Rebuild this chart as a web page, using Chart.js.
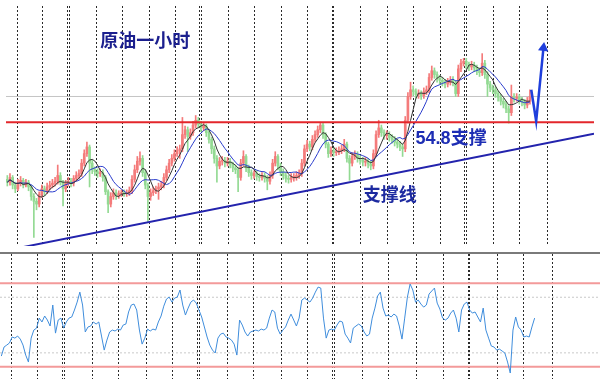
<!DOCTYPE html>
<html><head><meta charset="utf-8">
<script src="https://cdn.jsdelivr.net/npm/chart.js@4.4.1/dist/chart.umd.min.js"></script>
<style>
html,body{margin:0;padding:0;background:#fff;}
#wrap{position:relative;width:600px;height:379px;overflow:hidden;background:#fff;}
#main{position:absolute;left:0;top:0;}
#sep{position:absolute;left:0;top:252px;width:600px;height:2px;background:#7a7a7a;}
#rsi{position:absolute;left:0;top:254px;}
</style></head><body>
<div id="wrap">
<canvas id="main" width="600" height="252"></canvas>
<div id="sep"></div>
<canvas id="rsi" width="600" height="125"></canvas>
</div>
<script>
// ---- data (hourly bars) ----
const opens = [
54.20,54.17,54.22,54.14,54.10,54.16,54.19,54.14,54.17,54.12,
54.02,53.97,53.94,54.04,54.10,54.07,54.12,54.14,54.16,54.18,
54.24,54.17,54.10,54.16,54.18,54.16,54.21,54.24,54.26,54.37,
54.47,54.54,54.37,54.30,54.28,54.26,54.27,54.22,54.07,53.94,
54.02,54.06,54.03,54.05,54.06,54.05,54.06,54.08,54.20,54.30,
54.39,54.42,54.27,54.14,54.02,54.06,54.08,54.10,54.12,54.14,
54.22,54.30,54.37,54.42,54.47,54.50,54.52,54.67,54.72,54.65,
54.69,54.77,54.82,54.78,54.74,54.76,54.69,54.62,54.52,54.42,
54.34,54.39,54.40,54.37,54.39,54.36,54.32,54.30,54.22,54.37,
54.44,54.32,54.27,54.24,54.26,54.23,54.22,54.24,54.21,54.18,
54.24,54.37,54.44,54.34,54.28,54.24,54.21,54.20,54.22,54.22,
54.24,54.26,54.37,54.52,54.57,54.54,54.62,54.67,54.72,54.77,
54.67,54.57,54.47,54.50,54.48,54.49,54.50,54.52,54.57,54.42,
54.37,54.44,54.46,54.42,54.40,54.38,54.39,54.36,54.34,54.47,
54.67,54.74,54.69,54.66,54.67,54.64,54.62,54.59,54.57,54.54,
54.52,54.82,55.07,55.14,55.12,55.09,55.10,55.08,55.12,55.14,
55.27,55.34,55.30,55.26,55.24,55.22,55.20,55.22,55.24,55.22,
55.10,55.36,55.42,55.44,55.40,55.38,55.40,55.37,55.34,55.32,
55.42,55.30,55.20,55.16,55.14,55.10,55.06,55.02,54.99,54.94,
54.90,55.07,55.05,55.06,55.03,55.01,54.98,55.02];
const highs = [
54.24,54.26,54.24,54.17,54.20,54.23,54.21,54.20,54.19,54.14,
54.05,54.00,54.07,54.14,54.13,54.16,54.18,54.20,54.22,54.35,
54.27,54.19,54.19,54.22,54.21,54.24,54.28,54.30,54.41,54.51,
54.59,54.56,54.40,54.33,54.31,54.31,54.30,54.24,54.09,54.06,
54.10,54.09,54.08,54.09,54.09,54.09,54.12,54.24,54.35,54.44,
54.49,54.45,54.30,54.16,54.10,54.12,54.13,54.16,54.18,54.26,
54.34,54.41,54.46,54.51,54.54,54.56,54.85,54.76,54.75,54.73,
54.81,54.87,54.85,54.81,54.80,54.78,54.71,54.64,54.55,54.45,
54.43,54.44,54.43,54.43,54.42,54.38,54.35,54.32,54.41,54.50,
54.46,54.35,54.30,54.29,54.29,54.26,54.27,54.27,54.24,54.28,
54.41,54.49,54.46,54.37,54.31,54.27,54.24,54.26,54.26,54.28,
54.30,54.41,54.56,54.61,54.60,54.66,54.71,54.76,54.80,54.79,
54.69,54.59,54.54,54.53,54.53,54.54,54.56,54.62,54.59,54.45,
54.48,54.50,54.49,54.45,54.43,54.43,54.42,54.39,54.51,54.71,
54.82,54.77,54.72,54.71,54.70,54.67,54.65,54.62,54.60,54.57,
54.86,55.11,55.22,55.18,55.15,55.14,55.13,55.16,55.18,55.31,
55.39,55.37,55.33,55.29,55.27,55.25,55.26,55.28,55.28,55.24,
55.40,55.46,55.47,55.47,55.43,55.44,55.43,55.40,55.37,55.52,
55.45,55.33,55.23,55.19,55.17,55.13,55.09,55.05,55.02,54.97,
55.19,55.10,55.10,55.09,55.06,55.04,55.06,55.14];
const lows = [
54.13,54.14,54.10,54.06,54.08,54.13,54.11,54.12,54.08,53.98,
53.59,53.88,53.91,54.01,54.03,54.05,54.09,54.11,54.13,54.15,
54.14,53.92,54.07,54.13,54.12,54.13,54.18,54.21,54.23,54.34,
54.44,54.12,54.26,54.24,54.22,54.23,54.18,54.04,53.85,53.91,
53.99,53.99,54.00,54.02,54.02,54.02,54.03,54.05,54.17,54.27,
54.35,54.23,54.10,53.75,53.98,54.03,54.05,53.99,54.09,54.11,
54.19,54.27,54.34,54.39,54.44,54.42,54.49,54.63,54.49,54.62,
54.66,54.74,54.74,54.70,54.71,54.65,54.58,54.47,54.37,54.17,
54.31,54.35,54.33,54.34,54.32,54.28,54.26,54.07,54.19,54.34,
54.28,54.23,54.20,54.21,54.19,54.18,54.19,54.17,54.09,54.15,
54.21,54.34,54.30,54.24,54.20,54.17,54.16,54.17,54.18,54.19,
54.21,54.23,54.34,54.49,54.50,54.51,54.59,54.64,54.69,54.63,
54.53,54.43,54.44,54.44,54.45,54.46,54.47,54.49,54.38,54.19,
54.34,54.41,54.38,54.36,54.34,54.34,54.32,54.30,54.31,54.44,
54.64,54.65,54.62,54.62,54.60,54.58,54.55,54.53,54.50,54.44,
54.49,54.79,55.04,55.08,55.05,55.05,55.04,55.05,55.09,55.11,
55.24,55.26,55.22,55.20,55.18,55.16,55.17,55.19,55.18,55.07,
55.07,55.33,55.39,55.36,55.34,55.35,55.33,55.30,55.28,55.29,
55.26,55.07,55.12,55.10,55.06,55.02,54.98,54.95,54.90,54.79,
54.87,55.01,55.02,54.99,54.97,54.94,54.95,54.99];
const closes = [
54.17,54.22,54.14,54.10,54.16,54.19,54.14,54.17,54.12,54.02,
53.97,53.94,54.04,54.10,54.07,54.12,54.14,54.16,54.18,54.24,
54.17,54.10,54.16,54.18,54.16,54.21,54.24,54.26,54.37,54.47,
54.54,54.37,54.30,54.28,54.26,54.27,54.22,54.07,53.94,54.02,
54.06,54.03,54.05,54.06,54.05,54.06,54.08,54.20,54.30,54.39,
54.42,54.27,54.14,54.02,54.06,54.08,54.10,54.12,54.14,54.22,
54.30,54.37,54.42,54.47,54.50,54.52,54.67,54.72,54.65,54.69,
54.77,54.82,54.78,54.74,54.76,54.69,54.62,54.52,54.42,54.34,
54.39,54.40,54.37,54.39,54.36,54.32,54.30,54.22,54.37,54.44,
54.32,54.27,54.24,54.26,54.23,54.22,54.24,54.21,54.18,54.24,
54.37,54.44,54.34,54.28,54.24,54.21,54.20,54.22,54.22,54.24,
54.26,54.37,54.52,54.57,54.54,54.62,54.67,54.72,54.77,54.67,
54.57,54.47,54.50,54.48,54.49,54.50,54.52,54.57,54.42,54.37,
54.44,54.46,54.42,54.40,54.38,54.39,54.36,54.34,54.47,54.67,
54.74,54.69,54.66,54.67,54.64,54.62,54.59,54.57,54.54,54.52,
54.82,55.07,55.14,55.12,55.09,55.10,55.08,55.12,55.14,55.27,
55.34,55.30,55.26,55.24,55.22,55.20,55.22,55.24,55.22,55.10,
55.36,55.42,55.44,55.40,55.38,55.40,55.37,55.34,55.32,55.42,
55.30,55.20,55.16,55.14,55.10,55.06,55.02,54.99,54.94,54.90,
55.07,55.05,55.06,55.03,55.01,54.98,55.02,55.07];
const rsiValues = [
27.7,34.2,35.6,37.1,41.4,40.6,42.1,39.9,35.6,28.4,
23.4,40.6,46.4,47.8,55.0,52.2,56.5,53.6,49.3,64.4,
44.2,53.6,55.0,47.8,52.2,55.0,55.8,60.8,66.5,73.7,
64.4,45.0,48.6,49.3,52.2,50.7,52.2,42.1,32.0,39.2,
45.0,46.4,45.7,47.1,46.4,50.0,50.7,59.4,64.4,65.1,
60.8,46.4,36.3,40.6,47.1,45.7,47.1,46.4,52.2,56.5,
63.6,68.7,70.1,66.5,69.4,70.1,75.2,64.4,57.2,62.2,
66.5,68.0,65.8,60.8,55.8,48.6,41.4,35.6,32.0,29.9,
40.6,43.5,44.2,41.4,40.6,39.2,36.3,28.4,53.6,50.0,
45.0,42.1,45.0,45.7,46.4,45.7,47.1,46.4,47.8,55.0,
60.8,59.4,47.8,43.5,46.4,48.6,53.6,57.9,53.6,49.3,
55.0,68.0,69.4,68.0,66.5,69.4,73.7,77.3,76.6,55.0,
40.6,46.4,47.1,46.4,50.0,52.9,52.2,43.5,40.6,37.1,
47.8,49.3,50.7,49.3,45.0,42.1,43.5,55.0,62.2,70.9,
73.7,62.2,56.5,57.2,55.8,57.9,56.5,49.3,39.9,55.0,
70.1,79.5,75.2,66.5,68.0,65.1,62.9,64.4,72.3,74.5,
76.6,65.8,61.5,55.0,53.6,55.0,58.6,60.8,55.0,45.0,
60.8,65.1,66.5,60.8,58.6,59.4,55.8,52.2,62.2,46.4,
40.6,34.9,34.2,32.0,32.7,31.3,29.9,23.4,15.5,46.4,
55.8,48.6,46.4,41.4,42.1,41.4,48.6,55.0];
// vertical separators (bar index positions)
const gridAt = [3.56,13.17,22.51,23.25,33.38,43.2,53.32,63.15,72.16,73.01,83.25,93.07,103.19,113.02,122.26,122.88,133.12,142.94,153.06,163.04,172.27,172.87,182.98,192.81,203.52];
const resistance = 54.80;
const bidLevel = 55.07;
const supportLine = [[6.15, 53.49], [221.15, 54.68]];
const arrowPath = [[197.5, 55.14], [199.35, 54.81], [202.1, 55.58]];
const rsiBands = [80, 20];
const rsiSoft = [70, 30];
const noteTexts = ['原油一小时', '54.8支撑', '支撑线'];
const noteAnchors = [[35.0, 55.645], [153.9, 54.625], [134.0, 54.025]];

// ---- styles / layout ----
const XMIN = -0.5, XMAX = 221.15;
const UP = '#f47b7b', DN = '#93da93';
const noteStyle = [
  {font: 'bold 18px "Liberation Sans","Noto Sans CJK SC",sans-serif', color: '#1b1f8e'},
  {font: 'bold 18px "Liberation Sans","Noto Sans CJK SC",sans-serif', color: '#1d2db4'},
  {font: 'bold 18px "Liberation Sans","Noto Sans CJK SC",sans-serif', color: '#1d2aa0'}
];

const idx = closes.map((_, i) => i);
const barColors = idx.map(i => closes[i] >= opens[i] ? UP : DN);
function sma(arr, n) {
  return arr.map((_, i) => {
    const w = arr.slice(Math.max(0, i - n + 1), i + 1);
    return {x: i, y: w.reduce((a, b) => a + b, 0) / w.length};
  });
}
const hline = (v) => [{x: XMIN, y: v}, {x: XMAX, y: v}];
const xScale = () => ({type: 'linear', min: XMIN, max: XMAX, offset: false, display: false, grid: {display: false}});

// dotted vertical separators placed through the x scale
const vgridPlugin = {
  id: 'vgrid',
  beforeDatasetsDraw(chart) {
    const {ctx, chartArea: a, scales: {x}} = chart;
    ctx.save();
    ctx.strokeStyle = '#2a2a2a';
    ctx.lineWidth = 1;
    ctx.setLineDash([2, 2]);
    gridAt.forEach(v => {
      const px = Math.round(x.getPixelForValue(v)) + 0.5;
      ctx.beginPath(); ctx.moveTo(px, a.top); ctx.lineTo(px, a.bottom); ctx.stroke();
    });
    ctx.restore();
  }
};

const notesPlugin = {
  id: 'notes',
  afterDatasetsDraw(chart) {
    const {ctx, scales: {x, y}} = chart;
    noteTexts.forEach((t, k) => {
      ctx.save();
      ctx.font = noteStyle[k].font;
      ctx.fillStyle = noteStyle[k].color;
      ctx.textBaseline = 'middle';
      ctx.textAlign = 'left';
      ctx.fillText(t, x.getPixelForValue(noteAnchors[k][0]), y.getPixelForValue(noteAnchors[k][1]));
      ctx.restore();
    });
  }
};

new Chart(document.getElementById('main'), {
  type: 'bar',
  data: {
    datasets: [
      {type: 'line', data: hline(bidLevel), borderColor: '#c4c4c4', borderWidth: 1, pointRadius: 0, order: 9},
      {type: 'bar', data: idx.map(i => ({x: i, y: [lows[i], highs[i]]})), backgroundColor: barColors, barThickness: 1, grouped: false, borderWidth: 0, order: 8},
      {type: 'bar', data: idx.map(i => ({x: i, y: [opens[i], closes[i]]})), backgroundColor: barColors, barThickness: 2, minBarLength: 1, grouped: false, borderWidth: 0, order: 7},
      {type: 'line', data: sma(closes, 10), borderColor: '#2a3ccc', borderWidth: 1, pointRadius: 0, order: 6},
      {type: 'line', data: sma(closes, 5), borderColor: '#333333', borderWidth: 1, pointRadius: 0, order: 5},
      {type: 'line', data: hline(resistance), borderColor: '#e3262b', borderWidth: 2, pointRadius: 0, order: 3},
      {type: 'line', data: supportLine.map(p => ({x: p[0], y: p[1]})), borderColor: '#2323ad', borderWidth: 2, pointRadius: 0, order: 2},
      {type: 'line', data: arrowPath.map(p => ({x: p[0], y: p[1]})), borderColor: '#1f3fdc', backgroundColor: '#1f3fdc', borderWidth: 2.5,
        pointRadius: [0, 0, 6], pointStyle: 'triangle', pointRotation: 6, pointBorderWidth: 0, order: 1}
    ]
  },
  options: {
    responsive: false, animation: false, events: [],
    layout: {padding: 0},
    plugins: {legend: {display: false}, tooltip: {enabled: false}},
    scales: {x: xScale(), y: {type: 'linear', min: 53.50, max: 56.02, display: false, grid: {display: false}}}
  },
  plugins: [vgridPlugin, notesPlugin]
});

new Chart(document.getElementById('rsi'), {
  type: 'line',
  data: {
    datasets: [
      ...rsiSoft.map(v => ({data: hline(v), borderColor: '#c9c9c9', borderWidth: 1, borderDash: [2, 2], pointRadius: 0, order: 4})),
      ...rsiBands.map(v => ({data: hline(v), borderColor: '#f39a9a', borderWidth: 2, pointRadius: 0, order: 3})),
      {data: rsiValues.map((v, i) => ({x: i, y: v})), borderColor: '#3f8ddc', borderWidth: 1, pointRadius: 0, order: 1}
    ]
  },
  options: {
    responsive: false, animation: false, events: [],
    layout: {padding: 0},
    plugins: {legend: {display: false}, tooltip: {enabled: false}},
    scales: {x: xScale(), y: {type: 'linear', min: 11.2, max: 101.1, display: false, grid: {display: false}}}
  },
  plugins: [vgridPlugin]
});
</script>
</body></html>
